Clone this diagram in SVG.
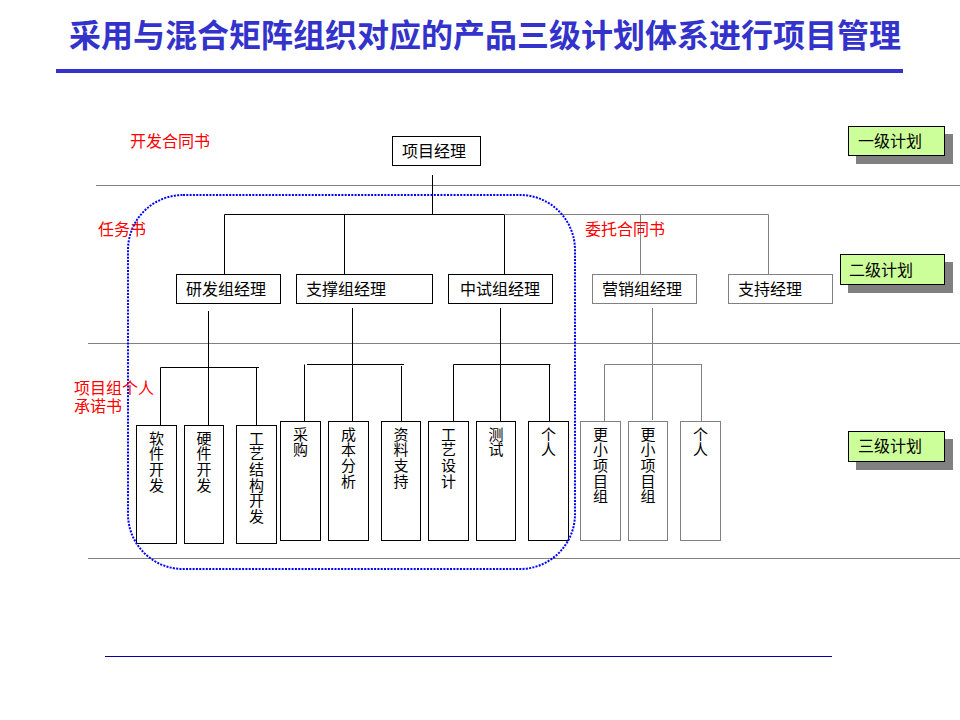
<svg xmlns="http://www.w3.org/2000/svg" width="960" height="720" viewBox="0 0 960 720">
<style>
.t{font-family:"Noto Sans CJK SC","Liberation Sans",sans-serif;font-size:16px;fill:#000}
.red{font-family:"Noto Sans CJK SC","Liberation Sans",sans-serif;font-size:16px;fill:#FF0000}
.title{font-family:"Noto Sans CJK SC","Liberation Sans",sans-serif;font-size:32px;font-weight:bold;fill:#3333CC}
.box{fill:#fff;stroke:#000;stroke-width:1}
.gbox{fill:#fff;stroke:#808080;stroke-width:1}
.lvl{fill:#CCFF99;stroke:#000;stroke-width:1}
.shadow{fill:#808080}
.k{stroke:#000;stroke-width:1;fill:none}
.g{stroke:#808080;stroke-width:1;fill:none}
.sep{stroke:#808080;stroke-width:1.2}
.vt{font-family:"Noto Sans CJK SC","Liberation Sans",sans-serif;font-size:15px;fill:#000;writing-mode:vertical-rl;letter-spacing:0.7px}
</style>
<rect width="960" height="720" fill="#fff"/>
<g id="title">
<text class="title" x="485" y="47" text-anchor="middle">采用与混合矩阵组织对应的产品三级计划体系进行项目管理</text>
<rect x="56" y="69" width="847" height="4" fill="#3333CC"/>
</g>
<g id="separators">
<line class="sep" x1="96" y1="185.5" x2="960" y2="185.5"/>
<line class="sep" x1="88" y1="343.5" x2="960" y2="343.5"/>
<line class="sep" x1="88" y1="558.5" x2="960" y2="558.5"/>
<line x1="105" y1="656.5" x2="832" y2="656.5" stroke="#0000A0" stroke-width="1.2"/>
</g>
<g id="connectors">
<path class="k" d="M432.5 175 V214.5 M224.5 214.5 H504.5 M224.5 214.5 V274 M344.5 214.5 V274 M504.5 214.5 V274"/>
<path class="g" d="M504.5 214.5 H768.5 M640.5 214.5 V274 M768.5 214.5 V274"/>
<path class="k" d="M208.5 311 V425 M160.5 367.5 H259 M160.5 367.5 V425 M256.5 367.5 V425"/>
<path class="k" d="M352.5 308 V421 M307 364.5 H404 M304.5 364.5 V421 M401.5 366 V421"/>
<path class="k" d="M500.5 308 V421 M453.5 364.5 H550.5 M453.5 364.5 V421 M549.5 364.5 V421"/>
<path class="g" d="M652.5 308 V420 M604.5 364.5 H702 M604.5 364.5 V421 M701.5 364.5 V421"/>
</g>
<g id="n-pm"><rect class="box" x="392.5" y="136.5" width="88" height="29"/><text class="t" x="402" y="157">项目经理</text></g>
<g id="n-rd"><rect class="box" x="176.5" y="274.5" width="104" height="29"/><text class="t" x="186" y="295">研发组经理</text></g>
<g id="n-support"><rect class="box" x="296.5" y="274.5" width="136" height="29"/><text class="t" x="306" y="295">支撑组经理</text></g>
<g id="n-pilot"><rect class="box" x="448.5" y="274.5" width="104" height="29"/><text class="t" x="460" y="295">中试组经理</text></g>
<g id="n-sales"><rect class="gbox" x="592.5" y="274.5" width="104" height="29"/><text class="t" x="602" y="295">营销组经理</text></g>
<g id="n-supmgr"><rect class="gbox" x="728.5" y="274.5" width="104" height="29"/><text class="t" x="738" y="295">支持经理</text></g>
<g id="n-sw"><rect class="box" x="136.5" y="425.5" width="40" height="118"/><text class="vt" x="156.5" y="430.5">软件开发</text></g>
<g id="n-hw"><rect class="box" x="184.5" y="425.5" width="39" height="118"/><text class="vt" x="204" y="430.5">硬件开发</text></g>
<g id="n-mech"><rect class="box" x="236.5" y="425.5" width="40" height="118"/><text class="vt" x="256.5" y="430.5">工艺结构开发</text></g>
<g id="n-purchase"><rect class="box" x="280.5" y="421.5" width="40" height="119"/><text class="vt" x="300.5" y="426.5">采购</text></g>
<g id="n-cost"><rect class="box" x="328.5" y="421.5" width="40" height="119"/><text class="vt" x="348.5" y="426.5">成本分析</text></g>
<g id="n-doc"><rect class="box" x="381.5" y="421.5" width="39" height="119"/><text class="vt" x="401" y="426.5">资料支持</text></g>
<g id="n-procdesign"><rect class="box" x="428.5" y="421.5" width="40" height="119"/><text class="vt" x="448.5" y="426.5">工艺设计</text></g>
<g id="n-test"><rect class="box" x="476.5" y="421.5" width="39" height="119"/><text class="vt" x="496" y="426.5">测试</text></g>
<g id="n-person1"><rect class="box" x="528.5" y="421.5" width="40" height="119"/><text class="vt" x="548.5" y="426.5">个人</text></g>
<g id="n-sub1"><rect class="gbox" x="580.5" y="421.5" width="40" height="119"/><text class="vt" x="600.5" y="426.5">更小项目组</text></g>
<g id="n-sub2"><rect class="gbox" x="628.5" y="421.5" width="39" height="119"/><text class="vt" x="648" y="426.5">更小项目组</text></g>
<g id="n-person2"><rect class="gbox" x="680.5" y="421.5" width="40" height="119"/><text class="vt" x="700.5" y="426.5">个人</text></g>
<g id="matrix-boundary">
<rect x="128" y="195" width="447" height="374" rx="55" ry="55" fill="none" stroke="#0000FF" stroke-width="2" stroke-dasharray="2 1.3"/>
</g>
<g id="level1"><rect class="shadow" x="856" y="134" width="97" height="30"/><rect class="lvl" x="848.5" y="126.5" width="96" height="29"/><text class="t" x="858" y="147">一级计划</text></g>
<g id="level2"><rect class="shadow" x="848" y="262" width="105" height="31"/><rect class="lvl" x="840.5" y="254.5" width="104" height="30"/><text class="t" x="849" y="276">二级计划</text></g>
<g id="level3"><rect class="shadow" x="856" y="439" width="97" height="31"/><rect class="lvl" x="848.5" y="431.5" width="96" height="30"/><text class="t" x="858" y="452">三级计划</text></g>
<g id="labels">
<text class="red" x="130" y="147">开发合同书</text>
<text class="red" x="98" y="235">任务书</text>
<text class="red" x="585" y="235">委托合同书</text>
<text class="red" x="74" y="394">项目组个人</text>
<text class="red" x="74" y="411.5">承诺书</text>
</g>
</svg>
